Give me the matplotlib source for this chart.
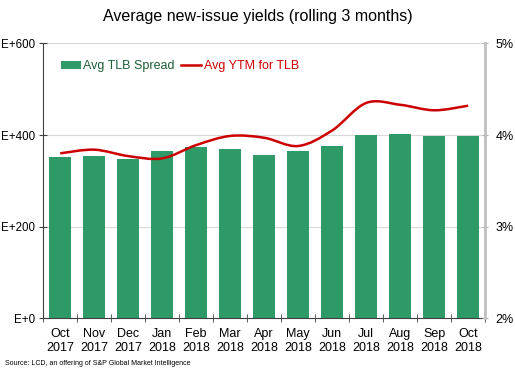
import matplotlib.pyplot as plt
from matplotlib.path import Path
from matplotlib.patches import PathPatch, Patch
from matplotlib.lines import Line2D
import numpy as np

months = ['Oct\n2017', 'Nov\n2017', 'Dec\n2017', 'Jan\n2018', 'Feb\n2018', 'Mar\n2018', 'Apr\n2018',
          'May\n2018', 'Jun\n2018', 'Jul\n2018', 'Aug\n2018', 'Sep\n2018', 'Oct\n2018']
tlb_spread = [352, 354, 347, 365, 373, 369, 356, 365, 376, 401, 403, 398, 397]
ytm_tlb = [3.80, 3.84, 3.77, 3.745, 3.89, 3.99, 3.97, 3.88, 4.05, 4.35, 4.33, 4.27, 4.32]
left_ticks = [0, 200, 400, 600]
left_labels = ['E+0', 'E+200', 'E+400', 'E+600']
right_ticks = [2, 3, 4, 5]
right_labels = ['2%', '3%', '4%', '5%']

green = '#2e9a68'
red = '#cc0000'

plt.rcParams['font.family'] = ['Liberation Sans', 'DejaVu Sans']

fig = plt.figure(figsize=(5.15, 3.74), dpi=100)
ax = fig.add_axes([0.084, 0.149, 0.858, 0.735])

x = np.arange(len(months))
ax.bar(x, tlb_spread, width=0.64, color=green, zorder=2)
ax.set_xlim(-0.5, len(months) - 0.5)
ax.set_ylim(0, 600)
ax.set_yticks(left_ticks)
ax.set_yticklabels(left_labels, fontsize=8.3)
ax.set_xticks(x)
ax.set_xticklabels(months, fontsize=9, linespacing=1.25)
ax.tick_params(axis='x', length=0, pad=7)
ax.set_xticks(np.arange(-0.5, len(months)), minor=True)
ax.tick_params(axis='x', which='minor', direction='inout', length=6, color='#404040')
ax.tick_params(axis='y', direction='inout', length=6, color='#404040', pad=3)
ax.yaxis.grid(True, color='#d9d9d9', linewidth=0.8, zorder=0)
ax.set_axisbelow(True)
for s in ['top', 'right']:
    ax.spines[s].set_visible(False)
ax.spines['left'].set_color('#404040')
ax.spines['bottom'].set_color('#404040')

ax2 = ax.twinx()
ax2.set_ylim(2, 5)
ax2.set_yticks(right_ticks)
ax2.set_yticklabels(right_labels, fontsize=9)
ax2.tick_params(axis='y', direction='inout', length=5, color='#b0b0b0', pad=5)
for s in ['top', 'left', 'bottom']:
    ax2.spines[s].set_visible(False)
ax2.spines['right'].set_color('#c0c0c0')
ax2.spines['right'].set_linewidth(2)

# smoothed line like Excel: cubic bezier through the points
pts = np.column_stack([x, ytm_tlb])
verts = [tuple(pts[0])]
codes = [Path.MOVETO]
n = len(pts)
for i in range(n - 1):
    p0 = pts[i - 1] if i > 0 else pts[i]
    p1 = pts[i]
    p2 = pts[i + 1]
    p3 = pts[i + 2] if i + 2 < n else pts[i + 1]
    c1 = p1 + (p2 - p0) / 6
    c2 = p2 - (p3 - p1) / 6
    verts += [tuple(c1), tuple(c2), tuple(p2)]
    codes += [Path.CURVE4] * 3
ax2.add_patch(PathPatch(Path(verts, codes), facecolor='none', edgecolor=red, linewidth=1.8, zorder=3))

handles = [Patch(facecolor=green), Line2D([0], [0], color=red, linewidth=1.8)]
ax.legend(handles, ['Avg TLB Spread', 'Avg YTM for TLB'], loc='upper left', bbox_to_anchor=(0.02, 0.97),
          ncol=2, frameon=False, fontsize=9, labelcolor=['#1e5e38', red], handlelength=1.6,
          handleheight=0.7, handletextpad=0.2, columnspacing=0.5, borderpad=0.2)

fig.text(0.5, 0.955, 'Average new-issue yields (rolling 3 months)', ha='center', va='center', fontsize=11.5)
fig.text(0.01, 0.027, 'Source: LCD, an offering of S&P Global Market Intelligence', ha='left', va='center',
         fontsize=5)

fig.savefig('out.png', dpi=100)
